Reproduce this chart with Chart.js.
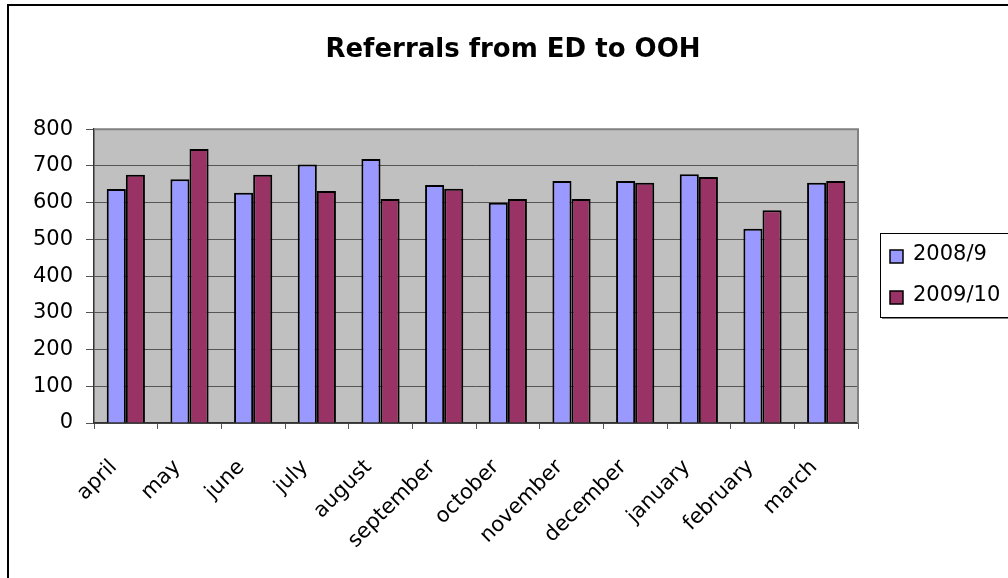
<!DOCTYPE html>
<html>
<head>
<meta charset="utf-8">
<script src="https://cdn.jsdelivr.net/npm/chart.js@4"></script>
<style>
  html, body { margin: 0; padding: 0; background: #fff; overflow: hidden; }
  #wrap { position: absolute; left: 0; top: 0; width: 1026px; height: 578px; }
</style>
</head>
<body>
<div id="wrap"><canvas id="c"></canvas></div>
<script>
// Monthly referrals, two financial years
const chartTitle = 'Referrals from ED to OOH';
const months = ['april', 'may', 'june', 'july', 'august', 'september',
                'october', 'november', 'december', 'january', 'february', 'march'];
const seriesNames = ['2008/9', '2009/10'];
const referrals2008 = [637, 664, 627, 704, 719, 648, 600, 659, 659, 677, 529, 654];
const referrals2009 = [676, 746, 676, 632, 610, 638, 610, 610, 654, 670, 579, 659];
const yMin = 0;
const yMax = 800;
const yStep = 100;

const seriesColors = ['#9999FF', '#993366'];
const FONT = 'DejaVu Sans';

// Grey plot background, frame, outer border and a boxed legend
const frame = {
  id: 'frame',
  beforeDraw(chart) {
    const { ctx, chartArea: a } = chart;
    ctx.save();
    ctx.fillStyle = '#C0C0C0';
    ctx.fillRect(a.left, a.top, a.right - a.left, a.bottom - a.top);
    ctx.restore();
  },
  beforeDatasetsDraw(chart) {
    const { ctx, chartArea: a } = chart;
    ctx.save();
    ctx.strokeStyle = '#808080';
    ctx.lineWidth = 2;
    ctx.beginPath();
    ctx.moveTo(a.left, a.top);
    ctx.lineTo(a.right, a.top);
    ctx.lineTo(a.right, a.bottom);
    ctx.stroke();
    ctx.restore();
  },
  afterDraw(chart) {
    const { ctx } = chart;
    ctx.save();
    // outer chart border
    ctx.strokeStyle = '#000';
    ctx.lineWidth = 2;
    ctx.strokeRect(8, 5, 1100, 700);

    // legend box
    const lx = 880, ly = 233, lw = 200, lh = 84;
    ctx.fillStyle = '#808080';
    ctx.fillRect(lx + 2, ly + lh, lw, 2);
    ctx.fillStyle = '#fff';
    ctx.fillRect(lx, ly, lw, lh);
    ctx.strokeStyle = '#000';
    ctx.lineWidth = 1;
    ctx.strokeRect(lx + 0.5, ly + 0.5, lw, lh);

    ctx.font = '21px "' + FONT + '"';
    ctx.textBaseline = 'middle';
    ctx.textAlign = 'left';
    chart.data.datasets.forEach((ds, i) => {
      const rowY = ly + 22 + i * 41;
      ctx.fillStyle = ds.backgroundColor;
      ctx.fillRect(890, rowY - 5, 13, 13);
      ctx.strokeStyle = '#000';
      ctx.lineWidth = 1.5;
      ctx.strokeRect(890, rowY - 5, 13, 13);
      ctx.fillStyle = '#000';
      ctx.fillText(ds.label, 913, rowY);
    });
    ctx.restore();
  }
};

new Chart(document.getElementById('c'), {
  type: 'bar',
  data: {
    labels: months,
    datasets: [
      { label: seriesNames[0], data: referrals2008, backgroundColor: seriesColors[0],
        borderColor: '#000', borderWidth: 2 },
      { label: seriesNames[1], data: referrals2009, backgroundColor: seriesColors[1],
        borderColor: '#000', borderWidth: 2 }
    ]
  },
  options: {
    responsive: true,
    maintainAspectRatio: false,
    animation: false,
    layout: { padding: 0 },
    datasets: { bar: { categoryPercentage: 0.6, barPercentage: 1.0 } },
    plugins: {
      legend: { display: false },
      tooltip: { enabled: false },
      title: {
        display: true,
        text: chartTitle,
        color: '#000',
        font: { family: FONT, size: 26, weight: 'bold', lineHeight: 1.2 },
        padding: { top: 35, bottom: 63 }
      }
    },
    scales: {
      x: {
        grid: { display: true, drawOnChartArea: false, drawTicks: true, tickLength: 6,
                color: '#555', offset: true },
        border: { display: true, color: '#333', width: 1.5 },
        ticks: {
          color: '#000', font: { family: FONT, size: 21 },
          minRotation: 45, maxRotation: 45, autoSkip: false,
          padding: 26, labelOffset: -12
        },
        afterFit(s) { s.height = 155; }
      },
      y: {
        min: yMin, max: yMax,
        grid: { color: '#555', lineWidth: 1, tickLength: 8 },
        border: { display: true, color: '#333', width: 1.5 },
        ticks: { stepSize: yStep, color: '#000', font: { family: FONT, size: 21 }, padding: 13 },
        afterFit(s) { s.width = 94; }
      },
      reserve: {
        type: 'linear', position: 'right', display: true,
        grid: { display: false, drawTicks: false },
        border: { display: false },
        ticks: { display: false },
        afterFit(s) { s.width = 168; }
      }
    }
  },
  plugins: [frame]
});
</script>
</body>
</html>
